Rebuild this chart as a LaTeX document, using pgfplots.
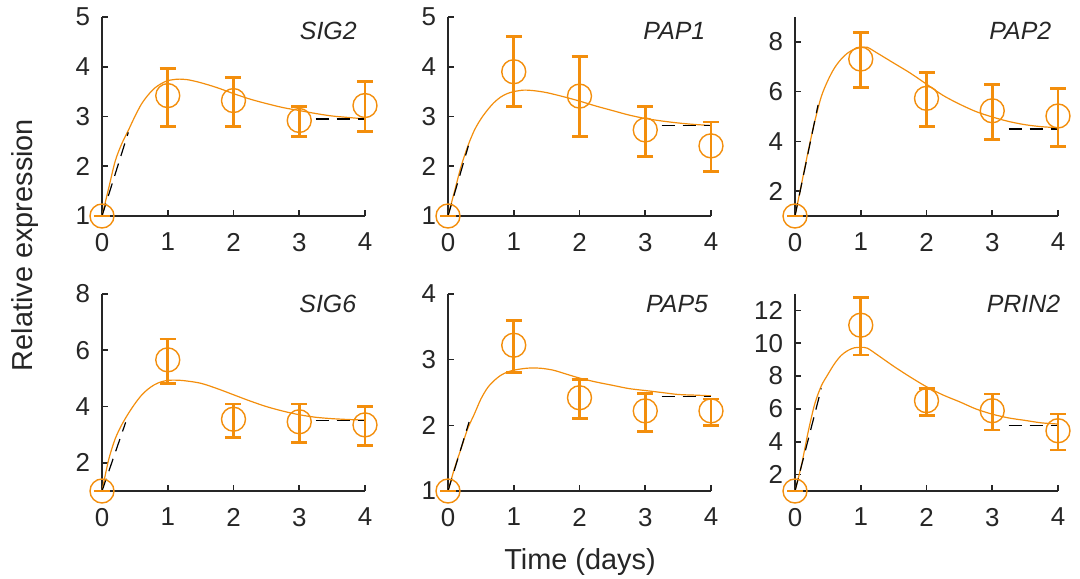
\documentclass[border=0pt]{standalone}
\usepackage{fontspec}
\setmainfont{Liberation Sans}
\usepackage{pgfplots}
\pgfplotsset{compat=1.18}
\definecolor{orng}{RGB}{243,142,12}
\definecolor{axgray}{RGB}{38,38,38}

\pgfplotsset{
  panel/.style={
    scale only axis, width=131.5bp, height=99.5bp,
    anchor=south west,
    axis lines*=left,
    axis line style={axgray, line width=1bp},
    xmin=0, xmax=4, xtick={0,...,4},
    tick align=inside, major tick length=3bp,
    tick style={axgray, line width=0.8bp},
    tick label style={font=\fontsize{13}{15}\selectfont, text=axgray},
    xticklabel style={yshift=-5bp},
    yticklabel style={xshift=-2.5bp},
    /pgf/number format/assume math mode=true,
    clip=false,
  },
  fitcurve/.style={orng, line width=0.6bp, smooth},
  guide/.style={black, line width=0.6bp, dash pattern=on 6.5bp off 4bp},
  pts/.style={only marks, orng, mark=o, mark size=6bp,
    mark options={line width=0.7bp},
    error bars/y dir=both, error bars/y explicit,
    error bars/error bar style={line width=1.4bp, orng},
    error bars/error mark options={rotate=90, line width=1.4bp, orng, mark size=4bp}},
}
\tikzset{gene/.style={anchor=east, inner sep=0pt, font=\itshape\fontsize{12.5}{15}\selectfont, text=axgray}}

\begin{document}
\begin{tikzpicture}
\useasboundingbox (0,0) rectangle (540bp,289.5bp);

% SIG2
\begin{axis}[panel, at={(51bp,181.5bp)}, ymin=1, ymax=5, ytick={1,...,5}]
  \addplot[fitcurve] coordinates {(0,1.00)(0.1,1.55)(0.2,2.1)(0.3,2.45)(0.4,2.72)(0.5,3.0)
    (0.6,3.25)(0.7,3.43)(0.8,3.57)(0.9,3.66)(1.0,3.72)(1.15,3.75)(1.3,3.74)(1.5,3.68)
    (1.75,3.58)(2.0,3.46)(2.25,3.35)(2.5,3.26)(2.75,3.18)(3.0,3.12)(3.25,3.06)
    (3.5,3.01)(3.75,2.98)(4.0,2.95)};
  \addplot[guide] coordinates {(0,1)(0.4,2.68)};
  \addplot[guide] coordinates {(3.25,2.95)(4,2.95)};
  \addplot[pts] coordinates {(0,1) +- (0,0)
    (1,3.42) += (0,0.55) -= (0,0.62)
    (2,3.32) += (0,0.46) -= (0,0.52)
    (3,2.92) += (0,0.28) -= (0,0.32)
    (4,3.22) += (0,0.48) -= (0,0.52)};
  \node[gene] at (rel axis cs:0.97,0.93) {SIG2};
\end{axis}

% PAP1
\begin{axis}[panel, at={(224bp,181.5bp)}, ymin=1, ymax=5, ytick={1,...,5}]
  \addplot[fitcurve] coordinates {(0,1)(0.1,1.5)(0.2,2.0)(0.3,2.4)(0.4,2.72)(0.5,2.95)
    (0.6,3.13)(0.7,3.28)(0.8,3.39)(0.9,3.46)(1.0,3.5)(1.15,3.53)(1.3,3.52)(1.5,3.48)
    (1.75,3.4)(2.0,3.31)(2.25,3.21)(2.5,3.12)(2.75,3.03)(3.0,2.96)(3.25,2.91)
    (3.5,2.87)(3.75,2.84)(4,2.82)};
  \addplot[guide] coordinates {(0,1)(0.31,2.41)};
  \addplot[guide] coordinates {(3.25,2.82)(4,2.82)};
  \addplot[pts] coordinates {(0,1) +- (0,0)
    (1,3.9) += (0,0.7) -= (0,0.7)
    (2,3.41) += (0,0.79) -= (0,0.81)
    (3,2.73) += (0,0.47) -= (0,0.54)
    (4,2.41) += (0,0.48) -= (0,0.52)};
  \node[gene] at (rel axis cs:0.98,0.93) {PAP1};
\end{axis}

% PAP2
\begin{axis}[panel, at={(397.5bp,181.5bp)}, ymin=1, ymax=9, ytick={2,4,6,8}]
  \addplot[fitcurve] coordinates {(0,1)(0.1,2.3)(0.2,3.6)(0.3,4.8)(0.4,5.8)(0.5,6.45)
    (0.6,6.95)(0.7,7.3)(0.8,7.55)(0.9,7.7)(1.0,7.77)(1.1,7.78)(1.25,7.55)(1.5,7.15)
    (1.75,6.75)(2.0,6.3)(2.25,5.85)(2.5,5.5)(2.75,5.2)(3.0,4.98)(3.25,4.8)
    (3.5,4.67)(3.75,4.59)(4,4.55)};
  \addplot[guide] coordinates {(0,1)(0.35,5.46)};
  \addplot[guide] coordinates {(3.25,4.5)(4,4.5)};
  \addplot[pts] coordinates {(0,1) +- (0,0)
    (1,7.31) += (0,1.06) -= (0,1.15)
    (2,5.73) += (0,1.03) -= (0,1.14)
    (3,5.23) += (0,1.04) -= (0,1.17)
    (4,5.02) += (0,1.11) -= (0,1.23)};
  \node[gene] at (rel axis cs:0.976,0.93) {PAP2};
\end{axis}

% SIG6
\begin{axis}[panel, at={(51bp,44bp)}, height=98.5bp, ymin=1, ymax=8, ytick={2,4,6,8}]
  \addplot[fitcurve] coordinates {(0,1)(0.1,2.1)(0.2,2.85)(0.3,3.35)(0.4,3.75)(0.5,4.1)
    (0.6,4.4)(0.7,4.62)(0.8,4.78)(0.9,4.88)(1.0,4.93)(1.1,4.94)(1.25,4.92)(1.5,4.83)
    (1.75,4.64)(2.0,4.42)(2.25,4.2)(2.5,4.0)(2.75,3.84)(3.0,3.71)(3.25,3.62)
    (3.5,3.57)(3.75,3.54)(4,3.52)};
  \addplot[guide] coordinates {(0,1)(0.36,3.44)};
  \addplot[guide] coordinates {(3.25,3.5)(4,3.5)};
  \addplot[pts] coordinates {(0,1) +- (0,0)
    (1,5.66) += (0,0.74) -= (0,0.85)
    (2,3.55) += (0,0.54) -= (0,0.65)
    (3,3.46) += (0,0.63) -= (0,0.74)
    (4,3.35) += (0,0.65) -= (0,0.73)};
  \node[gene] at (rel axis cs:0.968,0.95) {SIG6};
\end{axis}

% PAP5
\begin{axis}[panel, at={(224bp,44bp)}, height=98.5bp, ymin=1, ymax=4, ytick={1,...,4}]
  \addplot[fitcurve] coordinates {(0,1)(0.1,1.35)(0.2,1.65)(0.3,1.95)(0.4,2.17)(0.5,2.4)
    (0.6,2.57)(0.7,2.68)(0.8,2.76)(0.9,2.81)(1.0,2.84)(1.2,2.87)(1.4,2.87)(1.6,2.84)
    (1.8,2.78)(2.0,2.72)(2.25,2.66)(2.5,2.61)(2.75,2.56)(3.0,2.53)(3.25,2.5)
    (3.5,2.47)(3.75,2.46)(4,2.45)};
  \addplot[guide] coordinates {(0,1)(0.32,2.05)};
  \addplot[guide] coordinates {(3.25,2.44)(4,2.44)};
  \addplot[pts] coordinates {(0,1) +- (0,0)
    (1,3.22) += (0,0.38) -= (0,0.42)
    (2,2.42) += (0,0.28) -= (0,0.32)
    (3,2.22) += (0,0.27) -= (0,0.32)
    (4,2.22) += (0,0.18) -= (0,0.22)};
  \node[gene] at (rel axis cs:0.99,0.95) {PAP5};
\end{axis}

% PRIN2
\begin{axis}[panel, at={(397.5bp,44bp)}, height=98.5bp, ymin=1, ymax=13, ytick={2,4,...,12}]
  \addplot[fitcurve] coordinates {(0,1)(0.1,2.6)(0.2,4.6)(0.3,6.3)(0.4,7.4)(0.5,8.1)
    (0.6,8.75)(0.7,9.25)(0.8,9.55)(0.9,9.72)(1.0,9.75)(1.1,9.7)(1.25,9.3)(1.5,8.6)
    (1.75,7.95)(2.0,7.35)(2.25,6.85)(2.5,6.44)(2.75,6.0)(3.0,5.68)(3.25,5.45)
    (3.5,5.3)(3.75,5.15)(4,5.08)};
  \addplot[guide] coordinates {(0,1)(0.4,7.25)};
  \addplot[guide] coordinates {(3.25,5.0)(4,5.0)};
  \addplot[pts] coordinates {(0,1) +- (0,0)
    (1,11.1) += (0,1.67) -= (0,1.82)
    (2,6.5) += (0,0.75) -= (0,0.91)
    (3,5.89) += (0,1.02) -= (0,1.18)
    (4,4.67) += (0,1.02) -= (0,1.17)};
  \node[gene] at (rel axis cs:1.01,0.95) {PRIN2};
\end{axis}

\node[rotate=90, font=\fontsize{14.5}{17}\selectfont, text=axgray] at (12.5bp,167bp) {Relative expression};
\node[font=\fontsize{14.5}{17}\selectfont, text=axgray] at (290bp,8.5bp) {Time (days)};
\end{tikzpicture}
\end{document}
